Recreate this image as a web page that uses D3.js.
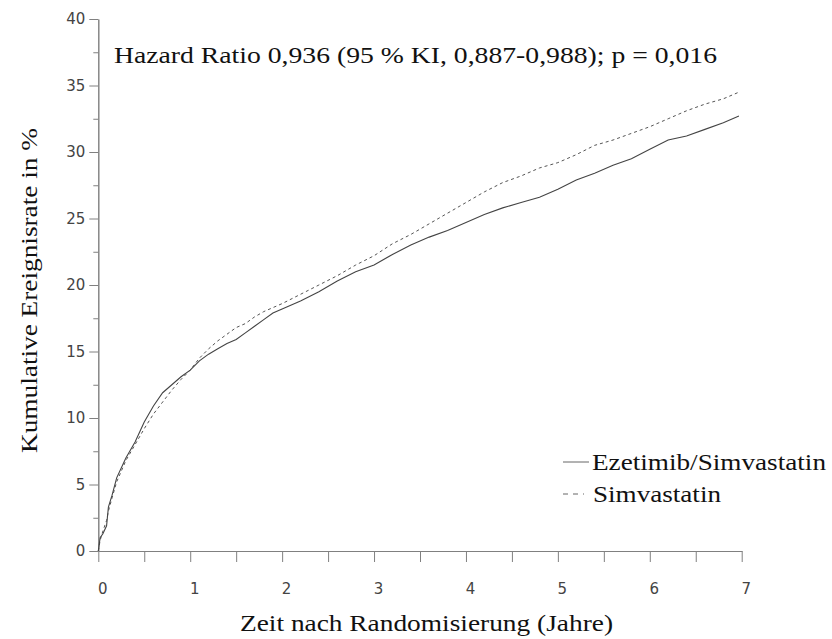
<!DOCTYPE html>
<html><head><meta charset="utf-8">
<script src="https://cdn.jsdelivr.net/npm/d3@7"></script>
<style>
html,body{margin:0;padding:0;background:#fff;}
svg{display:block;}
</style></head>
<body>
<svg id="chart" width="832" height="639"></svg>
<script>
const timeYears = [0,0.02,0.05,0.09,0.11,0.15,0.2,0.3,0.4,0.5,0.6,0.7,0.8,0.9,1.0,1.1,1.2,1.3,1.4,1.5,1.6,1.7,1.8,1.9,2.0,2.2,2.4,2.6,2.8,3.0,3.2,3.4,3.6,3.8,4.0,4.2,4.4,4.6,4.8,5.0,5.2,5.4,5.6,5.8,6.0,6.2,6.4,6.6,6.8,6.97];
const ezetimibSimvastatin = [0,1.0,1.3,1.9,3.3,4.2,5.5,7.0,8.2,9.7,10.9,11.9,12.5,13.1,13.6,14.3,14.8,15.2,15.6,15.9,16.4,16.9,17.4,17.9,18.2,18.8,19.5,20.3,21.0,21.5,22.3,23.0,23.6,24.1,24.7,25.3,25.8,26.2,26.6,27.2,27.9,28.4,29.0,29.5,30.2,30.9,31.2,31.7,32.2,32.7];
const simvastatin = [0,0.8,1.5,2.3,3.0,4.0,5.2,6.8,8.0,9.2,10.3,11.2,12.1,12.9,13.6,14.5,15.2,15.8,16.3,16.8,17.1,17.6,18.0,18.3,18.6,19.3,20.0,20.7,21.5,22.2,23.1,23.8,24.6,25.4,26.2,27.0,27.7,28.2,28.8,29.2,29.8,30.5,30.9,31.4,31.9,32.5,33.1,33.6,34.0,34.5];
const xMajorTicks = [0,1,2,3,4,5,6,7];
const xMinorTicks = [0.5,1.5,2.5,3.5,4.5,5.5,6.5];
const yMajorTicks = [0,5,10,15,20,25,30,35,40];
const yMinorTicks = [2.5,7.5,12.5,17.5,22.5,27.5,32.5,37.5];
const seriesNames = ["Ezetimib/Simvastatin","Simvastatin"];
const titleText = "Hazard Ratio 0,936 (95 % KI, 0,887-0,988); p = 0,016";
const xLabel = "Zeit nach Randomisierung (Jahre)";
const yLabel = "Kumulative Ereignisrate in %";

const svg = d3.select("#chart");
const x = d3.scaleLinear().domain([0,7]).range([98.3,741.7]);
const y = d3.scaleLinear().domain([0,40]).range([551,19]);
const axisColor = "#808080";
const tickFont = "'DejaVu Sans', sans-serif";
const serif = "'Liberation Serif', 'Times New Roman', serif";
const serifSize = 23;

// X axis
const gx = svg.append("g").attr("transform",`translate(0,${y(0)})`);
gx.call(d3.axisBottom(x).tickValues(xMajorTicks).tickSize(11).tickSizeOuter(0).tickFormat(d3.format("d")));
gx.append("g").call(d3.axisBottom(x).tickValues(xMinorTicks).tickSize(11).tickSizeOuter(0).tickFormat(""));
gx.selectAll("path.domain").attr("stroke",axisColor);
gx.selectAll(".tick line").attr("stroke",axisColor);
gx.selectAll(".tick text").attr("font-family",tickFont).attr("font-size",15).attr("fill","#444").attr("dx",4).attr("dy",29);
gx.select("g").select("path.domain").remove();

// Y axis
const gy = svg.append("g").attr("transform",`translate(${x(0)},0)`);
gy.call(d3.axisLeft(y).tickValues(yMajorTicks).tickSize(9).tickSizeOuter(0).tickFormat(d3.format("d")));
gy.append("g").call(d3.axisLeft(y).tickValues(yMinorTicks).tickSize(5).tickSizeOuter(0).tickFormat(""));
gy.selectAll("path.domain").attr("stroke",axisColor);
gy.selectAll(".tick line").attr("stroke",axisColor);
gy.selectAll(".tick text").attr("font-family",tickFont).attr("font-size",15).attr("fill","#444").attr("dx",-1);
gy.select("g").select("path.domain").remove();

// Lines
const line = d3.line().x(d=>x(d[0])).y(d=>y(d[1])).curve(d3.curveLinear);
const solidData = timeYears.map((t,i)=>[t,ezetimibSimvastatin[i]]);
const dashData = timeYears.map((t,i)=>[t,simvastatin[i]]);
svg.append("path").datum(dashData).attr("d",line).attr("fill","none")
  .attr("stroke","#555").attr("stroke-width",1).attr("stroke-dasharray","3,3");
svg.append("path").datum(solidData).attr("d",line).attr("fill","none")
  .attr("stroke","#444").attr("stroke-width",1.1);

// Title
svg.append("text").attr("x",114).attr("y",63).attr("font-family",serif).attr("font-size",serifSize)
  .attr("textLength",603).attr("lengthAdjust","spacingAndGlyphs")
  .attr("fill","#111").text(titleText);

// Axis labels
svg.append("text").attr("x",240).attr("y",631)
  .attr("textLength",373).attr("lengthAdjust","spacingAndGlyphs")
  .attr("font-family",serif).attr("font-size",serifSize).attr("fill","#111").text(xLabel);
svg.append("text").attr("transform","translate(37,453) rotate(-90)")
  .attr("textLength",325).attr("lengthAdjust","spacingAndGlyphs")
  .attr("font-family",serif).attr("font-size",serifSize).attr("fill","#111").text(yLabel);

// Legend
const legend = svg.append("g");
const legY = [462,494];
const legTextX = [592,593];
const legTextLen = [234,128];
legend.append("line").attr("x1",563).attr("x2",589).attr("y1",legY[0]).attr("y2",legY[0])
  .attr("stroke","#666").attr("stroke-width",1);
legend.append("line").attr("x1",563).attr("x2",584).attr("y1",legY[1]).attr("y2",legY[1])
  .attr("stroke","#666").attr("stroke-width",1).attr("stroke-dasharray","5,5");
seriesNames.forEach((n,i)=>{
  legend.append("text").attr("x",legTextX[i]).attr("y",legY[i]+8).attr("font-family",serif)
    .attr("textLength",legTextLen[i]).attr("lengthAdjust","spacingAndGlyphs")
    .attr("font-size",serifSize).attr("fill","#111").text(n);
});
</script>
</body></html>
